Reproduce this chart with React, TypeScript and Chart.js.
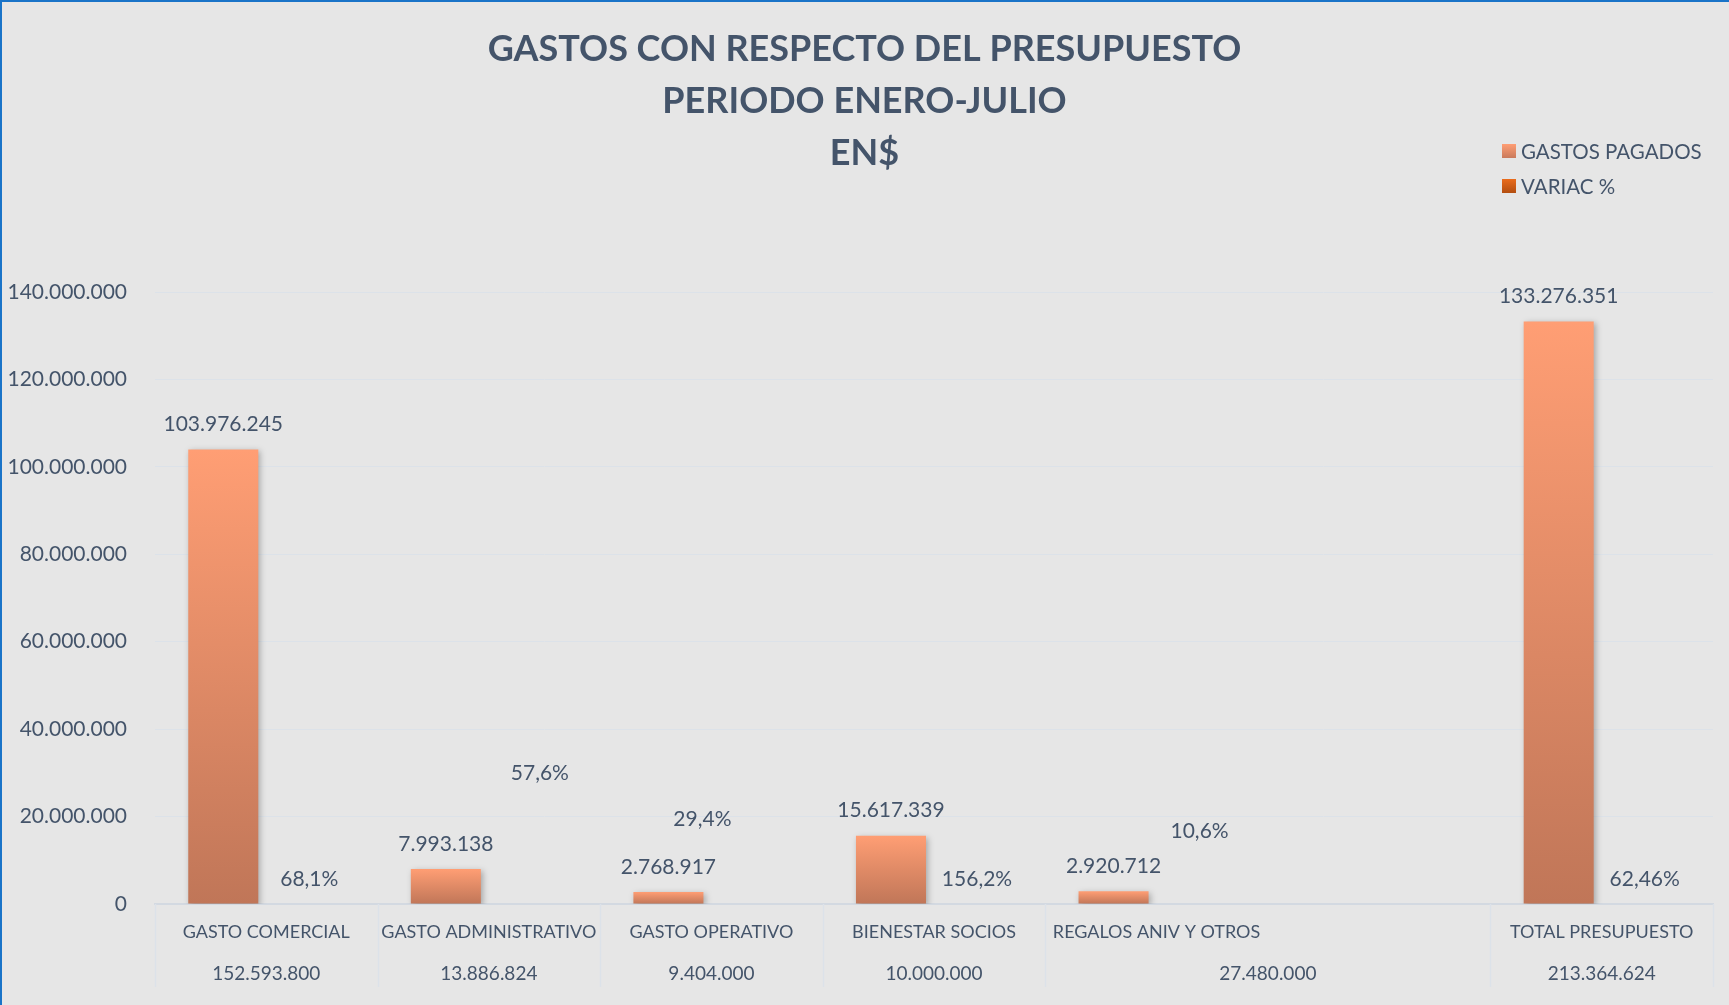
import React, { useEffect, useRef } from "react";
import { Chart, registerables } from "chart.js";

Chart.register(...registerables);

// ---------- DATA ----------
const CATEGORIES = [
  "GASTO COMERCIAL",
  "GASTO ADMINISTRATIVO",
  "GASTO OPERATIVO",
  "BIENESTAR SOCIOS",
  "REGALOS ANIV Y OTROS",
  "",
  "TOTAL PRESUPUESTO",
];
const GASTOS_PAGADOS = [103976245, 7993138, 2768917, 15617339, 2920712, null, 133276351];
const VARIAC_PCT = [0.681, 0.576, 0.294, 1.562, 0.106, null, 0.6246];
const PRESUPUESTO = [152593800, 13886824, 9404000, 10000000, 27480000, null, 213364624];
const SERIES_NAMES = ["GASTOS PAGADOS", "VARIAC %"];
const TITLE_LINES = ["GASTOS CON RESPECTO DEL PRESUPUESTO", "PERIODO ENERO-JULIO", "EN$"];
const Y_MIN = 0;
const Y_MAX = 140000000;
const Y_STEP = 20000000;

// ---------- LABEL LAYOUT (manually placed % labels in the original) ----------
const VARIAC_LABEL_ANCHOR = [null, 30000000, 19450000, null, 16700000, null, null];
const VARIAC_LABEL_DX = [0, 8, -52, 0, 0, 0, 0];

// ---------- STYLE ----------
const TEXT = "#44546A";
const FONT = "Lato, 'Open Sans', sans-serif";
const GRID = "#DCE2E9";

const fmtNum = (n: number) => String(Math.round(n)).replace(/\B(?=(\d{3})+(?!\d))/g, ".");
const fmtPct = (v: number) => String(Math.round(v * 10000) / 100).replace(".", ",") + "%";

function barGradient(c: any, top: string, bottom: string) {
  const chart = c.chart;
  const ys = chart.scales && chart.scales.y;
  if (!chart.chartArea || !ys || c.raw == null) return top;
  const t = ys.getPixelForValue(c.raw);
  const b = ys.getPixelForValue(0);
  if (b - t < 1) return top;
  const g = chart.ctx.createLinearGradient(0, t, 0, b);
  g.addColorStop(0, top);
  g.addColorStop(1, bottom);
  return g;
}

const decorPlugin = {
  id: "decor",
  beforeDatasetDraw(chart: any, args: any) {
    const ctx = chart.ctx;
    ctx.save();
    if (args.index === 0) {
      ctx.shadowColor = "rgba(0,0,0,0.28)";
      ctx.shadowBlur = 6;
      ctx.shadowOffsetX = 2;
      ctx.shadowOffsetY = 2;
    }
  },
  afterDatasetDraw(chart: any) {
    chart.ctx.restore();
  },
  afterDatasetsDraw(chart: any) {
    const ctx = chart.ctx;
    const xs = chart.scales.x;
    const ys = chart.scales.y;

    // data labels
    ctx.save();
    ctx.fillStyle = TEXT;
    ctx.font = `21px ${FONT}`;
    ctx.textAlign = "center";
    ctx.textBaseline = "middle";
    const m0 = chart.getDatasetMeta(0);
    GASTOS_PAGADOS.forEach((v, i) => {
      if (v == null) return;
      const el = m0.data[i];
      ctx.fillText(fmtNum(v), el.x, el.y - 25);
    });
    const m1 = chart.getDatasetMeta(1);
    VARIAC_PCT.forEach((v, i) => {
      if (v == null) return;
      const el = m1.data[i];
      const a = VARIAC_LABEL_ANCHOR[i];
      const y = a != null ? ys.getPixelForValue(a) : ys.getPixelForValue(0) - 25;
      ctx.fillText(fmtPct(v), el.x + VARIAC_LABEL_DX[i], y);
    });

    // table: vertical separators
    const half = (xs.getPixelForValue(1) - xs.getPixelForValue(0)) / 2;
    ctx.strokeStyle = GRID;
    ctx.lineWidth = 1.5;
    for (let i = 0; i <= CATEGORIES.length; i++) {
      if (i < CATEGORIES.length && CATEGORIES[i] === "") continue;
      const x =
        i < CATEGORIES.length ? xs.getPixelForValue(i) - half : xs.getPixelForValue(i - 1) + half;
      ctx.beginPath();
      ctx.moveTo(Math.round(x) + 0.5, xs.top);
      ctx.lineTo(Math.round(x) + 0.5, xs.top + 83);
      ctx.stroke();
    }
    // budget row
    ctx.font = `19px ${FONT}`;
    PRESUPUESTO.forEach((v, i) => {
      if (v == null) return;
      let x = xs.getPixelForValue(i);
      if (i + 1 < PRESUPUESTO.length && PRESUPUESTO[i + 1] == null) {
        x = (x + xs.getPixelForValue(i + 1)) / 2;
      }
      ctx.fillText(fmtNum(v), x, xs.top + 70);
    });

    // legend
    ctx.font = `20.5px ${FONT}`;
    ctx.textAlign = "left";
    const lx = 1502;
    const legendColors = [
      ["#FF9E74", "#C97A5C"],
      ["#EA6C1C", "#B34E10"],
    ];
    SERIES_NAMES.forEach((name, k) => {
      const cy = 151 + k * 35;
      const g = ctx.createLinearGradient(0, cy - 7, 0, cy + 7);
      g.addColorStop(0, legendColors[k][0]);
      g.addColorStop(1, legendColors[k][1]);
      ctx.fillStyle = g;
      ctx.fillRect(lx, cy - 7, 14, 14);
      ctx.fillStyle = TEXT;
      ctx.fillText(name, lx + 19, cy + 1);
    });
    ctx.restore();
  },
};

export default function App() {
  const ref = useRef<HTMLCanvasElement | null>(null);

  useEffect(() => {
    document.body.style.margin = "0";
    if (!ref.current) return;
    const chart = new Chart(ref.current, {
      type: "bar",
      data: {
        labels: CATEGORIES,
        datasets: [
          {
            label: SERIES_NAMES[0],
            data: GASTOS_PAGADOS as any,
            backgroundColor: (c: any) => barGradient(c, "#FF9E74", "#C07658"),
            borderWidth: 0,
            inflateAmount: 0,
            categoryPercentage: 0.773,
            barPercentage: 0.814,
          } as any,
          {
            // percentages on a 140M scale: bars are practically invisible, as in the original
            label: SERIES_NAMES[1],
            data: VARIAC_PCT as any,
            backgroundColor: "rgba(0,0,0,0)",
            borderWidth: 0,
            inflateAmount: 0,
            categoryPercentage: 0.773,
            barPercentage: 0.814,
          } as any,
        ],
      },
      options: {
        responsive: false,
        animation: false,
        maintainAspectRatio: false,
        layout: { padding: { left: 0, right: 0, top: 0, bottom: 0 } },
        plugins: {
          legend: { display: false },
          tooltip: { enabled: false },
          title: {
            display: true,
            text: TITLE_LINES,
            color: TEXT,
            font: { family: FONT, size: 36, weight: "bold", lineHeight: "52px" } as any,
            padding: { top: 23, bottom: 113 },
          },
        },
        scales: {
          x: {
            grid: { display: false, drawTicks: false },
            border: { display: true, color: "#D3D9E1", width: 2 },
            ticks: {
              color: TEXT,
              font: { family: FONT, size: 18 },
              padding: 17,
              autoSkip: false,
              maxRotation: 0,
              minRotation: 0,
            },
            afterFit: (s: any) => {
              s.height = 101;
            },
          },
          y: {
            min: Y_MIN,
            max: Y_MAX,
            ticks: {
              stepSize: Y_STEP,
              color: TEXT,
              font: { family: FONT, size: 21 },
              padding: 28,
              callback: (v: any) => fmtNum(Number(v)),
            },
            grid: { color: GRID, lineWidth: 1, drawTicks: false },
            border: { display: false },
            afterFit: (s: any) => {
              s.width = 155;
            },
          },
          yRight: {
            position: "right",
            display: true,
            grid: { display: false, drawTicks: false },
            border: { display: false },
            ticks: { display: false },
            afterFit: (s: any) => {
              s.width = 16;
            },
          },
        },
      },
      plugins: [decorPlugin],
    });
    return () => chart.destroy();
  }, []);

  return (
    <div style={{ position: "relative", width: 1729, height: 1005, background: "#E6E6E6" }}>
      <canvas ref={ref} width={1729} height={1005} style={{ display: "block" }} />
      <div
        style={{
          position: "absolute",
          left: 0,
          top: 0,
          width: 1729,
          height: 1005,
          boxSizing: "border-box",
          borderLeft: "2px solid #1A74C8",
          borderTop: "2px solid #1A74C8",
          pointerEvents: "none",
        }}
      />
    </div>
  );
}
